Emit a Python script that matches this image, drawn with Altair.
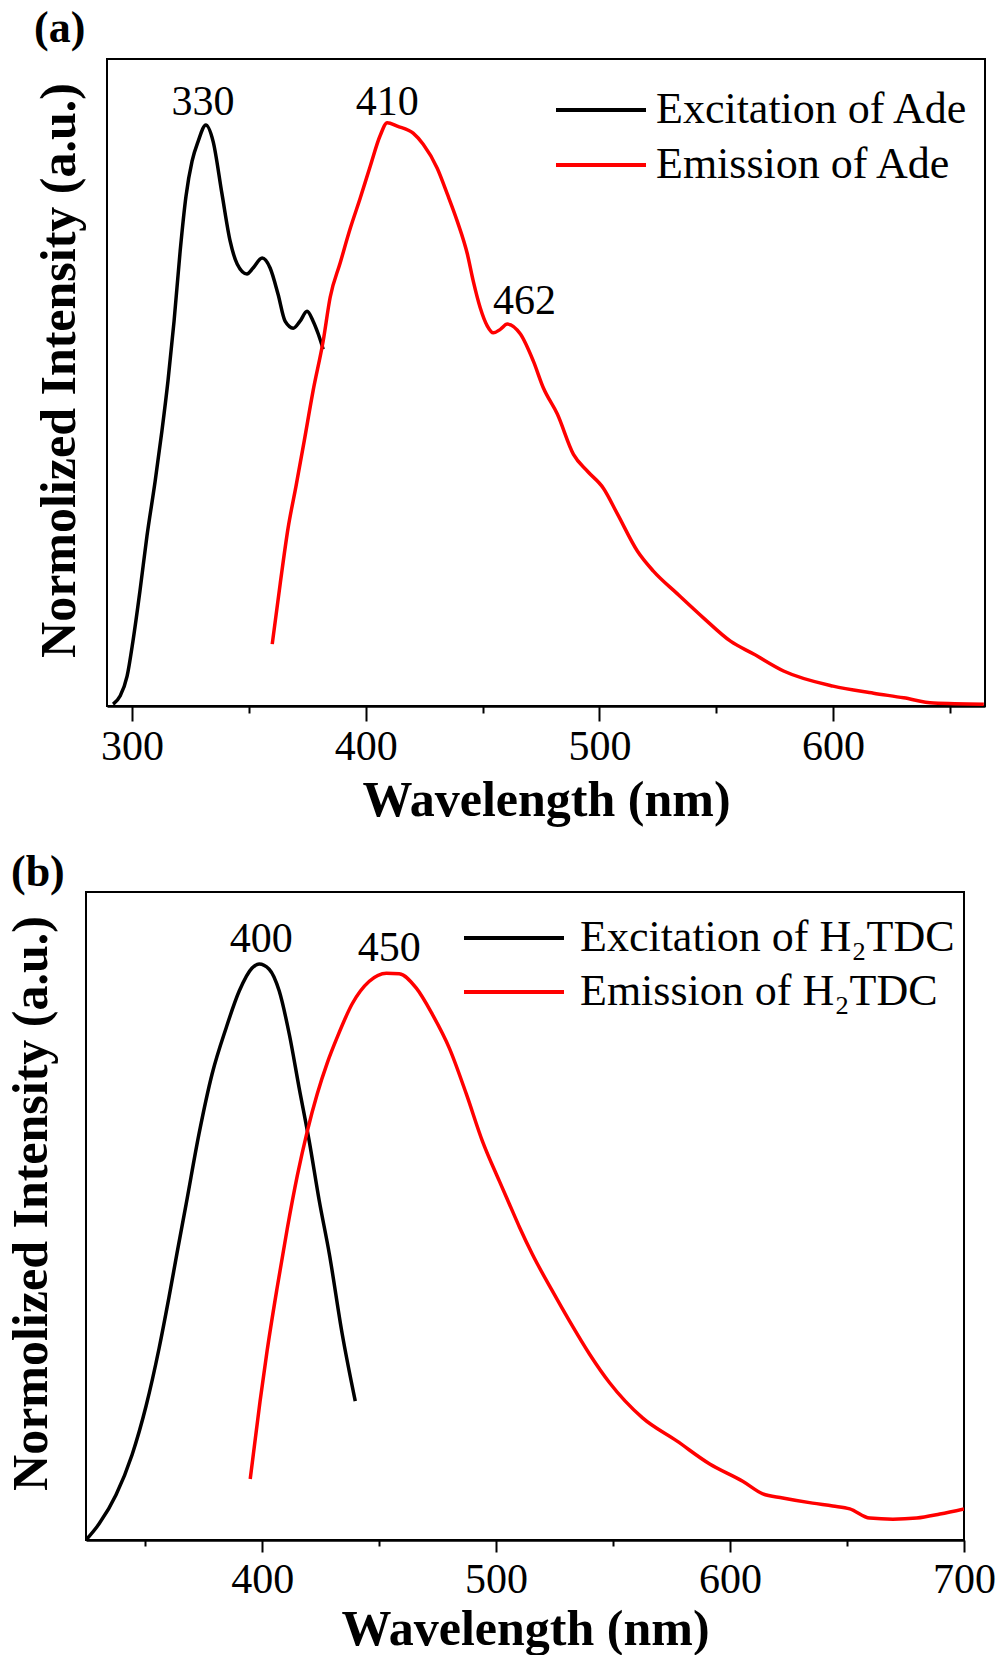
import altair as alt
import pandas as pd

FONT = "Liberation Serif"
YTITLE = "Normolized Intensity (a.u.)"

# ---------------- Panel (a): Adenine ----------------
ade_names = ["Excitation of Ade", "Emission of Ade"]
ade_ex_nm = [291.9, 294.9, 297.9, 300.4, 303.4, 306.4, 309.9, 312.8, 315.4, 318.0, 320.6, 323.1,
             325.7, 328.3, 331.6, 334.7, 338.5, 342.0, 345.0, 349.2, 351.8, 355.7, 359.1, 362.5,
             365.5, 369.0, 371.9, 374.9, 377.5, 379.7, 381.8]
ade_ex_int = [0.003, 0.017, 0.051, 0.111, 0.197, 0.291, 0.385, 0.471, 0.557, 0.659, 0.779, 0.873,
              0.933, 0.967, 0.995, 0.967, 0.877, 0.796, 0.757, 0.74, 0.75, 0.767, 0.75, 0.705,
              0.659, 0.647, 0.659, 0.676, 0.659, 0.637, 0.611]
ade_em_nm = [360.0, 363.4, 366.8, 370.2, 373.7, 377.5, 381.8, 384.8, 389.1, 393.4, 397.6, 401.9,
             406.2, 409.2, 413.5, 420.3, 424.6, 430.6, 434.9, 439.2, 443.5, 446.0, 449.0, 452.0,
             454.6, 457.6, 460.6, 466.2, 471.7, 476.0, 482.0, 488.9, 494.9, 501.7, 507.7, 516.3,
             523.1, 533.4, 544.5, 556.1, 566.0, 578.8, 600.0, 617.3, 630.2, 643.0, 664.5]
ade_em_int = [0.106, 0.209, 0.305, 0.377, 0.454, 0.54, 0.625, 0.7, 0.759, 0.818, 0.869, 0.924,
              0.977, 0.999, 0.993, 0.981, 0.962, 0.921, 0.877, 0.83, 0.774, 0.728, 0.682, 0.651,
              0.639, 0.645, 0.654, 0.637, 0.591, 0.545, 0.5, 0.431, 0.402, 0.373, 0.329, 0.265,
              0.231, 0.192, 0.151, 0.111, 0.089, 0.06, 0.034, 0.022, 0.014, 0.005, 0.003]
ade_ann_nm = [330.4, 409.2, 468.0]
ade_ann_val = [1.034, 1.034, 0.693]
ade_ann_lab = ["330", "410", "462"]
ade_ticks = [300, 350, 400, 450, 500, 550, 600, 650]

# ---------------- Panel (b): H2TDC ----------------
tdc_names = ["Excitation of H\u2082TDC", "Emission of H\u2082TDC"]
tdc_ex_nm = [324.7, 330.3, 337.5, 344.4, 350.4, 355.9, 360.2, 363.6, 367.5, 373.0, 378.6, 384.6,
             390.2, 395.7, 398.7, 403.0, 407.3, 411.6, 415.8, 420.1, 424.4, 428.7, 434.2, 439.8]
tdc_ex_int = [0.0, 0.028, 0.078, 0.148, 0.233, 0.332, 0.422, 0.498, 0.583, 0.705, 0.809, 0.889,
              0.953, 0.993, 1.0, 0.991, 0.953, 0.878, 0.785, 0.693, 0.589, 0.497, 0.358, 0.241]
tdc_em_nm = [394.9, 399.1, 402.1, 406.4, 410.7, 415.0, 419.3, 423.5, 427.8, 432.1, 438.5, 445.8,
             453.1, 458.6, 465.9, 472.7, 480.0, 487.3, 494.1, 501.4, 505.7, 510.0, 515.5, 524.1,
             531.4, 539.9, 548.5, 562.6, 577.2, 591.3, 605.4, 614.0, 622.5, 635.3, 643.9, 651.2,
             659.7, 669.6, 679.8, 689.7, 700.0]
tdc_em_int = [0.106, 0.241, 0.328, 0.438, 0.54, 0.632, 0.71, 0.774, 0.828, 0.873, 0.931, 0.97,
              0.984, 0.983, 0.958, 0.913, 0.854, 0.774, 0.693, 0.623, 0.583, 0.543, 0.496, 0.432,
              0.38, 0.323, 0.273, 0.212, 0.172, 0.132, 0.102, 0.08, 0.073, 0.064, 0.059, 0.054,
              0.038, 0.036, 0.038, 0.045, 0.054]
tdc_ann_nm = [399.6, 454.3]
tdc_ann_val = [1.043, 1.028]
tdc_ann_lab = ["400", "450"]
tdc_ticks = [350, 400, 450, 500, 550, 600, 650, 700]


def title_params(text, dx, offset):
    return alt.TitleParams(text=text, anchor="start", frame="group", dx=dx, offset=offset,
                           font=FONT, fontSize=44, fontWeight="bold", color="black")


def y_title_axis(pad, ty):
    return alt.Axis(labels=False, ticks=False, domain=False, grid=False,
                    title=YTITLE, titleFont=FONT, titleFontSize=50,
                    titleFontWeight="bold", titleColor="black", titlePadding=pad, titleY=ty)


def panel(names, ex_nm, ex_int, em_nm, em_int, ann_nm, ann_val, ann_lab, ticks,
          xdom, ydom, w, h, legend_x, legend_y, sym_size, label_offset_leg, row_pad,
          xlabel_pad, xtitle_pad, major_tick, yaxis, title=None):
    df = pd.DataFrame({
        "nm": ex_nm + em_nm,
        "val": ex_int + em_int,
        "series": [names[0]] * len(ex_nm) + [names[1]] * len(em_nm),
    })
    ann = pd.DataFrame({"nm": ann_nm, "val": ann_val, "label": ann_lab})

    xaxis = alt.Axis(
        values=ticks,
        labelExpr="datum.value % 100 === 0 ? datum.label : ''",
        tickSize={"condition": {"test": "datum.value % 100 === 0", "value": major_tick},
                  "value": major_tick // 2},
        tickWidth=2, tickColor="black",
        domainColor="black", domainWidth=2.5,
        labelFont=FONT, labelFontSize=42, labelColor="black",
        labelPadding=xlabel_pad, labelOverlap=False, labelFlush=False,
        title="Wavelength (nm)", titleFont=FONT, titleFontSize=50,
        titleFontWeight="bold", titleColor="black", titlePadding=xtitle_pad,
        grid=False, orient="bottom",
    )
    x = alt.X("nm:Q", scale=alt.Scale(domain=xdom, nice=False, zero=False), axis=xaxis)
    y = alt.Y("val:Q", scale=alt.Scale(domain=ydom, nice=False, zero=False), axis=yaxis)

    legend = alt.Legend(
        orient="none", legendX=legend_x, legendY=legend_y, title=None,
        symbolType="M-3,0H3", symbolSize=sym_size, symbolStrokeWidth=4,
        labelFont=FONT, labelFontSize=44, labelColor="black", labelLimit=0,
        labelOffset=label_offset_leg, rowPadding=row_pad,
    )
    lines = alt.Chart(df).mark_line(strokeWidth=3.5, interpolate="monotone", clip=True).encode(
        x=x, y=y,
        color=alt.Color("series:N", scale=alt.Scale(domain=names, range=["#000000", "#ff0000"]),
                        legend=legend),
    )
    text = alt.Chart(ann).mark_text(font=FONT, fontSize=42, color="black",
                                    align="center", baseline="middle").encode(
        x=x, y=y, text="label:N")
    layered = alt.layer(lines, text).properties(width=w, height=h)
    if title is not None:
        layered = layered.properties(title=title)
    return layered


# Panel (a): plot area only; its y title and "(a)" tag live in a narrow blank strip
# on its left, which shifts panel (a) ~20 px right of panel (b) as in the original.
chart_a = panel(ade_names, ade_ex_nm, ade_ex_int, ade_em_nm, ade_em_int,
                ade_ann_nm, ade_ann_val, ade_ann_lab, ade_ticks,
                [289.3, 665.0], [0, 1.108], 878, 647,
                472, 29, 900, 33, 11, 5, 8, 15, None)

strip_a = alt.Chart(pd.DataFrame({"v": [0, 1]})).mark_point(opacity=0).encode(
    y=alt.Y("v:Q", axis=y_title_axis(2, 311))
).properties(width=12, height=647, title=title_params("(a)", -52, 5),
             view=alt.ViewBackground(stroke="transparent"))

row_a = alt.concat(strip_a, chart_a, columns=2, spacing=0).resolve_scale(
    x="independent", y="independent", color="independent"
)

chart_b = panel(tdc_names, tdc_ex_nm, tdc_ex_int, tdc_em_nm, tdc_em_int,
                tdc_ann_nm, tdc_ann_val, tdc_ann_lab, tdc_ticks,
                [324.7, 700.0], [0, 1.125], 878, 648,
                406, 24, 1111, 44, 10, 7, 4, 12, y_title_axis(30, 311),
                title=title_params("(b)", -75, -3))

chart = alt.concat(
    row_a,
    chart_b,
    columns=1,
    spacing=24,
).resolve_scale(
    x="independent", y="independent", color="independent"
).properties(
    padding={"left": 5, "top": 6, "right": 2, "bottom": 0},
    background="white",
).configure_view(stroke="black", strokeWidth=2)

chart.save("out.html", embed_options={"renderer": "svg", "actions": False})
